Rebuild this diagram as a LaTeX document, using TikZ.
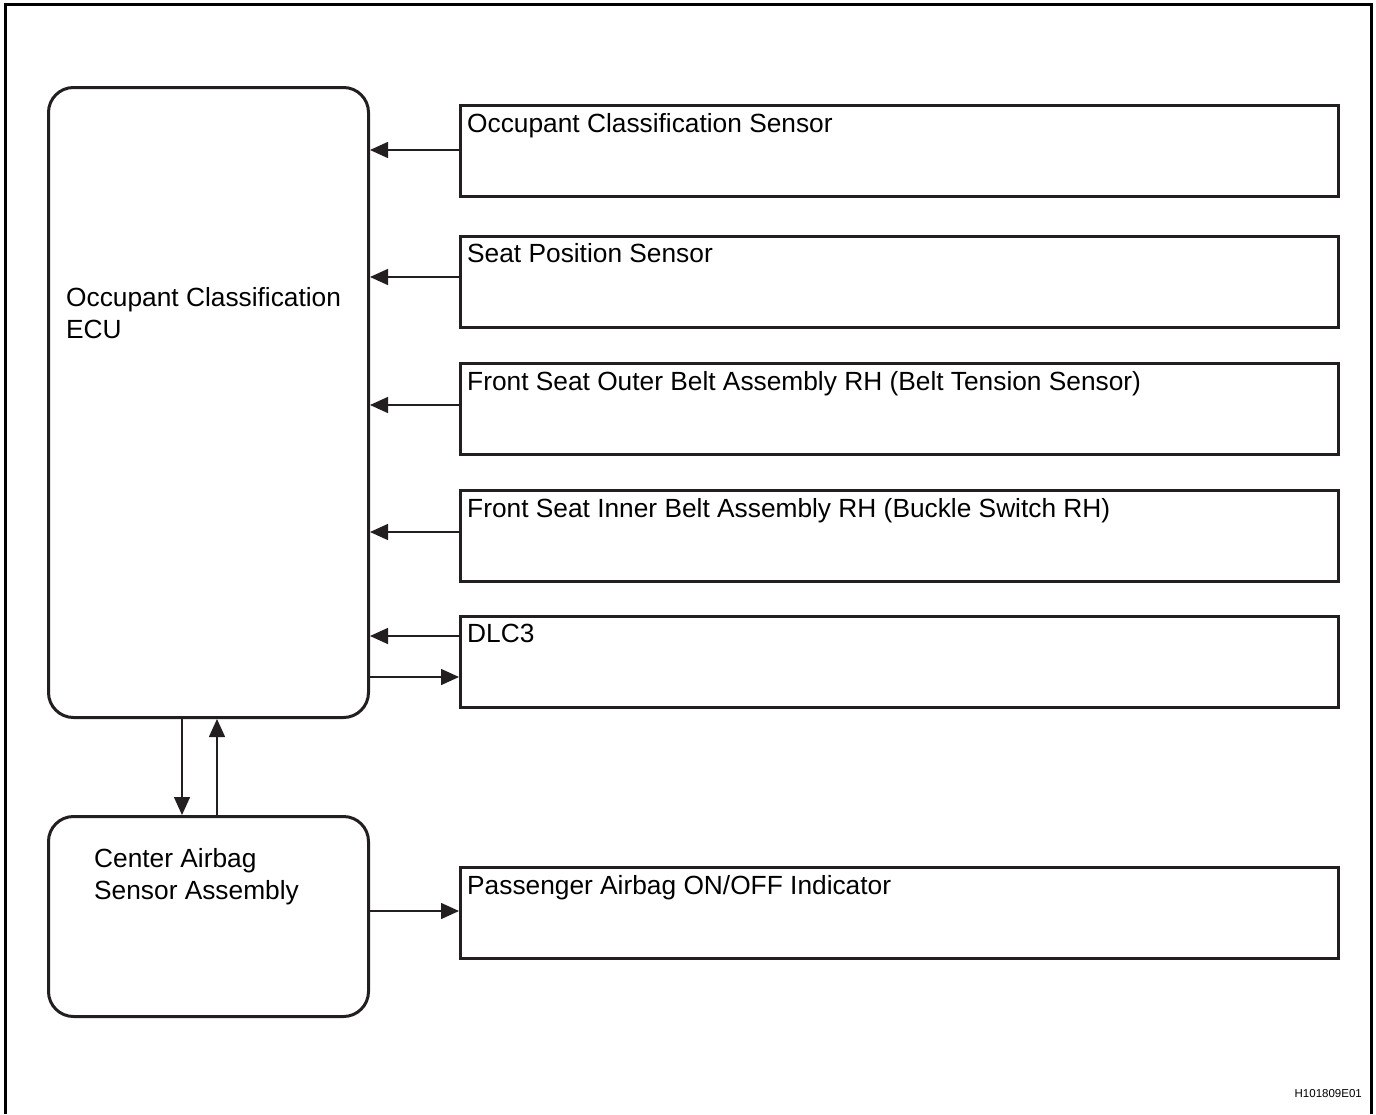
\documentclass[tikz,border=0pt]{standalone}
\usepackage{fontspec}
\setmainfont{Liberation Sans}
\usepackage{tikz}
\usetikzlibrary{arrows.meta}
\definecolor{boxgray}{RGB}{35,31,32}

\begin{document}
\begin{tikzpicture}[x=1pt,y=-1pt,font=\fontsize{26.3}{31.5}\selectfont]

%
% Styles
%
\tikzstyle{ecubox}  = [draw=boxgray,line width=3pt,rounded corners=25pt,minimum width=320pt,anchor=north west,inner sep=0pt]
\tikzstyle{unit}    = [draw=boxgray,line width=3pt,minimum width=878pt,minimum height=91pt,anchor=north west,inner sep=0pt]
\tikzstyle{txt}     = [anchor=base west,inner sep=0pt,align=left]

\tikzstyle{edge}    = [-{Triangle[length=18pt,width=16pt]},line width=1.5pt,draw=boxgray,fill=boxgray]

\useasboundingbox (0,0) rectangle (1376,1114);
\draw[line width=3pt] (5,1114) |- (1371,4) -- (1371,1114);

\node[ecubox,minimum height=630pt] (ecu)  at (47,86)  {};
\node[ecubox,minimum height=200pt] (casa) at (47,815) {};
\node[txt] (ecut)  at (66,338) {Occupant Classification\\ECU};
\node[txt] (casat) at (94,899) {Center Airbag\\Sensor Assembly};

\node[unit] (ocs) at (459,104) {};
\node[unit] (sps) at (459,235) {};
\node[unit] (bts) at (459,362) {};
\node[unit] (bsw) at (459,489) {};
\node[unit] (dlc) at (459,615) {};
\node[unit] (ind) at (459,866) {};

\node[txt] (ocst) at (467,132) {Occupant Classification Sensor};
\node[txt] (spst) at (467,262) {Seat Position Sensor};
\node[txt] (btst) at (467,390) {Front Seat Outer Belt Assembly RH (Belt Tension Sensor)};
\node[txt] (bswt) at (467,517) {Front Seat Inner Belt Assembly RH (Buckle Switch RH)};
\node[txt] (dlct) at (467,642) {DLC3};
\node[txt] (indt) at (467,894) {Passenger Airbag ON/OFF Indicator};

\draw[edge] (ocs.west |- 0,150) -- (ecu.east |- 0,150);
\draw[edge] (sps.west |- 0,277) -- (ecu.east |- 0,277);
\draw[edge] (bts.west |- 0,405) -- (ecu.east |- 0,405);
\draw[edge] (bsw.west |- 0,532) -- (ecu.east |- 0,532);
\draw[edge] (dlc.west |- 0,636) -- (ecu.east |- 0,636);
\draw[edge] (ecu.east |- 0,677) -- (dlc.west |- 0,677);

\draw[edge] (ecu.south -| 182,0) -- (casa.north -| 182,0);
\draw[edge] (casa.north -| 217,0) -- (ecu.south -| 217,0);

\draw[edge] (casa.east |- 0,911) -- (ind.west |- 0,911);

\node[anchor=base east,inner sep=0pt,font=\fontsize{11.5}{13}\selectfont] (code) at (1362,1097) {H101809E01};

\end{tikzpicture}
\end{document}
